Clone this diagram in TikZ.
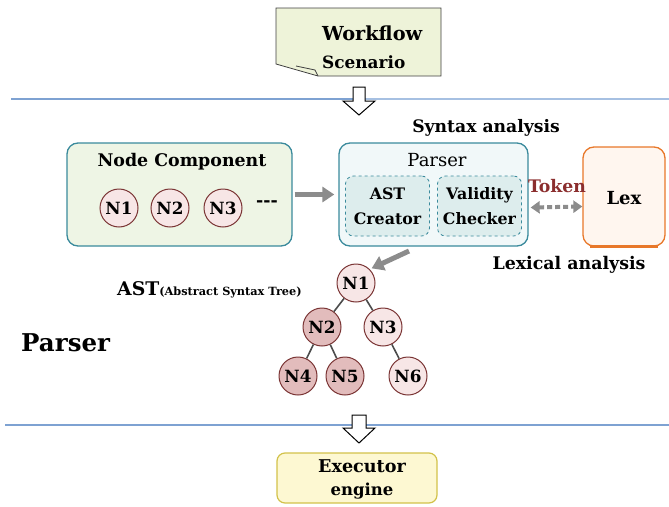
\documentclass[tikz,border=0pt]{standalone}
\usepackage{fontspec}
\setmainfont{DejaVu Serif}
\usetikzlibrary{arrows.meta}
\definecolor{tealb}{HTML}{3A8A9C}
\definecolor{ncfill}{HTML}{EEF5E5}
\definecolor{pfill}{HTML}{F1F8F9}
\definecolor{subfill}{HTML}{DDEDED}
\definecolor{lexb}{HTML}{E8782A}
\definecolor{lexfill}{HTML}{FFF6EF}
\definecolor{exfill}{HTML}{FDF8D2}
\definecolor{exb}{HTML}{D2C24A}
\definecolor{notefill}{HTML}{EEF3D9}
\definecolor{lineblue}{HTML}{7EA2D2}
\definecolor{lineblue2}{HTML}{A6C0E2}
\definecolor{circb}{HTML}{7A3434}
\definecolor{clight}{HTML}{F7E6E6}
\definecolor{cdark}{HTML}{E2BCBC}
\definecolor{tokred}{HTML}{8B2E2E}
\definecolor{garrow}{HTML}{8C8C8C}
\begin{document}
\begin{tikzpicture}[x=1pt,y=-1pt,
  txt/.style={font=\bfseries\fontsize{17.4}{20}\selectfont, inner sep=0pt},
  bigbox/.style={draw=tealb, line width=1.3pt, rounded corners=11pt, inner sep=0pt},
  subbox/.style={draw=tealb, dashed, fill=subfill, line width=0.8pt, rounded corners=8pt,
     minimum width=84pt, minimum height=60pt, align=center, inner sep=0pt,
     font=\bfseries\fontsize{15.8}{25}\selectfont},
  circ/.style={circle, draw=circb, line width=1pt, minimum size=38pt, inner sep=0pt,
     font=\bfseries\fontsize{16.8}{18}\selectfont},
  grayarr/.style={draw=garrow, line width=5pt, -{Triangle[length=12pt,width=15pt]}},
  edge/.style={draw=black!70, line width=1.6pt},
  hollow/.style={draw=black, line width=1pt, fill=white}
]
\useasboundingbox (0,0) rectangle (669,506);

% separator lines
\draw[lineblue, line width=1.5pt] (11,99) -- (355,99);
\draw[lineblue2, line width=1.5pt] (355,99) -- (669,99);
\draw[lineblue, line width=1.5pt] (5,425) -- (669,425);

% workflow note
\draw[fill=notefill, draw=black!75, line width=0.8pt]
  (276,8) -- (441,8) -- (441,76) -- (318,76) -- (276,64) -- cycle;
\draw[draw=black!75, line width=0.8pt] (318,76) -- (315,70) -- (296,66);
\node[txt, anchor=west] (wf) at (322,33) {\fontsize{19.3}{22}\selectfont Workflow};
\node[txt, anchor=west] (sc) at (322,62) {\fontsize{16.9}{20}\selectfont Scenario};

% hollow arrows
\draw[hollow] (353,87) -- (365,87) -- (365,101) -- (375,101) -- (359,115) -- (343,101) -- (353,101) -- cycle;
\draw[hollow] (352,415) -- (366,415) -- (366,428) -- (375,428) -- (359,443) -- (343,428) -- (352,428) -- cycle;

% Node component
\node[bigbox, fill=ncfill, minimum width=225pt, minimum height=103pt] (nc) at (179.5,194.5) {};
\node[txt] (nct) at (182,162) {Node Component};
\node[circ, fill=clight] (c1) at (119,208) {N1};
\node[circ, fill=clight] (c2) at (170,208) {N2};
\node[circ, fill=clight] (c3) at (223,208) {N3};
\node[txt] (dots) at (267,204) {-{}-{}-};

% Parser
\node[bigbox, fill=pfill, minimum width=189pt, minimum height=103pt] (parser) at (433.5,194.5) {};
\node[inner sep=0pt, font=\fontsize{18}{20}\selectfont] (pt) at (437,160) {Parser};
\node[subbox] (ast) at (387.5,206) {AST\\Creator};
\node[subbox] (val) at (479.5,206) {Validity\\Checker};
\node[txt, font=\bfseries\fontsize{17.2}{20}\selectfont] (syn) at (486,128) {Syntax analysis};

% Lex
\node[draw=lexb, fill=lexfill, line width=1.3pt, rounded corners=11pt,
  minimum width=82pt, minimum height=99pt, inner sep=0pt] (lex) at (624,196.5) {};
\draw[lexb, line width=2.5pt] ([xshift=8pt]lex.south west) -- ([xshift=-8pt]lex.south east);
\node[txt, font=\bfseries\fontsize{18}{20}\selectfont] (lext) at (624,198) {Lex};
\node[txt, text=tokred, font=\bfseries\fontsize{17.3}{20}\selectfont] (tok) at (557,186) {Token};
\node[txt, font=\bfseries\fontsize{17.4}{20}\selectfont] (lexa) at (569,265) {Lexical analysis};
\draw[draw=garrow, line width=4pt, dash pattern=on 5pt off 3pt,
  {Triangle[length=9pt,width=12pt]}-{Triangle[length=9pt,width=12pt]}]
  ([yshift=-13pt]parser.east) ++(2,0) coordinate (d1) -- ([yshift=-10pt]lex.west) coordinate (d2);

% arrow node component -> parser
\draw[grayarr] (nc.east) ++(2,0) -- ([xshift=-4pt]parser.west |- nc.east);

% AST tree
\node[circ, fill=clight] (t1) at (356,283) {N1};
\node[circ, fill=cdark] (t2) at (322,327) {N2};
\node[circ, fill=clight] (t3) at (383,327) {N3};
\node[circ, fill=cdark] (t4) at (298,376) {N4};
\node[circ, fill=cdark] (t5) at (345,376) {N5};
\node[circ, fill=clight] (t6) at (408,376) {N6};
\draw[edge] (t1) -- (t2);
\draw[edge] (t1) -- (t3);
\draw[edge] (t2) -- (t4);
\draw[edge] (t2) -- (t5);
\draw[edge] (t3) -- (t6);
\coordinate (pa) at (409,251);
\draw[grayarr, shorten >=2pt] (pa) -- (t1.north east);

\node[txt, anchor=west] (astl) at (117,290) {\fontsize{18.8}{20}\selectfont AST\fontsize{11.3}{13}\selectfont(Abstract Syntax Tree)};
\node[txt, anchor=west] (pbig) at (21,343) {\fontsize{24.5}{28}\selectfont Parser};

% Executor
\node[draw=exb, fill=exfill, line width=1.2pt, rounded corners=8pt,
  minimum width=160pt, minimum height=50pt, inner sep=0pt] (ex) at (357,478) {};
\node[txt] (ex1) at (362,466) {\fontsize{17.6}{20}\selectfont Executor};
\node[txt] (ex2) at (362,491) {\fontsize{16.5}{20}\selectfont engine};
\end{tikzpicture}
\end{document}
